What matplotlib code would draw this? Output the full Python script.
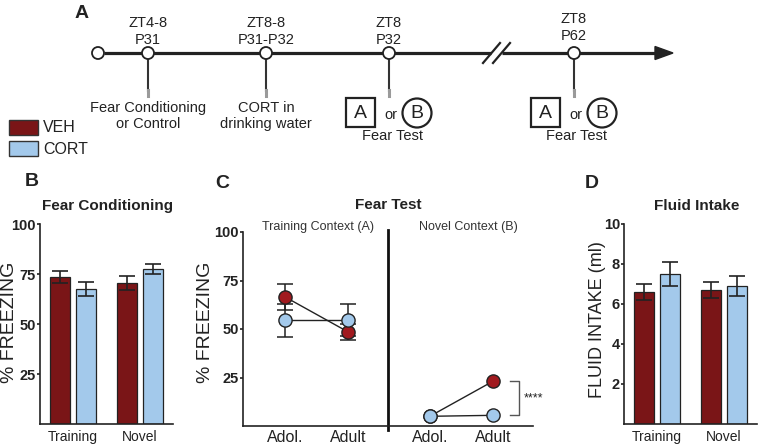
import matplotlib.pyplot as plt
import matplotlib.patches as mpatches
import numpy as np

plt.rcParams['font.family'] = ['Liberation Sans', 'DejaVu Sans']

# ---- datos ----
# panel A: linea de tiempo
tl_top = [('ZT4-8', 'P31'), ('ZT8-8', 'P31-P32'), ('ZT8', 'P32'), ('ZT8', 'P62')]
tl_bottom = ['Fear Conditioning\nor Control', 'CORT in\ndrinking water', 'Fear Test', 'Fear Test']
groups = ['VEH', 'CORT']

# panel B: fear conditioning
fc_cats = ['Training', 'Novel']
fc_veh = [73.5, 70.5]
fc_veh_err = [3.0, 3.5]
fc_cort = [67.5, 77.5]
fc_cort_err = [3.5, 2.5]

# panel C: fear test
ft_ages = ['Adol.', 'Adult']
ft_train_veh = [66.5, 48.5]
ft_train_veh_err = [6.7, 4.0]
ft_train_cort = [54.5, 54.5]
ft_train_cort_err = [8.5, 8.3]
ft_novel_veh = [5.0, 23.0]
ft_novel_cort = [5.0, 5.5]

# panel D: fluid intake
fi_cats = ['Training', 'Novel']
fi_veh = [6.6, 6.7]
fi_veh_err = [0.4, 0.4]
fi_cort = [7.5, 6.9]
fi_cort_err = [0.6, 0.5]

RED_BAR = '#7a1517'
RED_DOT = '#a11a1f'
BLUE = '#a3c9eb'
DARK = '#222222'

W, H = 761, 447
fig = plt.figure(figsize=(W / 100, H / 100), dpi=100)

# eje en pixeles para el diagrama y los textos
ax0 = fig.add_axes([0, 0, 1, 1])
ax0.set_xlim(0, W)
ax0.set_ylim(H, 0)
ax0.axis('off')


def axes_px(left, right, top, bottom):
    return fig.add_axes([left / W, 1 - bottom / H, (right - left) / W, (bottom - top) / H])


# ---- panel A ----
line_y = 53
ax0.text(82, 13, 'A', fontsize=14, fontweight='bold', ha='center', va='center', color=DARK)
ax0.plot([104, 491], [line_y, line_y], color=DARK, lw=2.3, solid_capstyle='butt', zorder=2)
ax0.plot([502, 660], [line_y, line_y], color=DARK, lw=2.3, solid_capstyle='butt', zorder=2)
ax0.fill([655, 673, 655], [46.5, line_y, 59.5], color=DARK, zorder=2)
for xs in (483, 493):
    ax0.plot([xs, xs + 17], [63, 43], color=DARK, lw=1.6, zorder=3)
ax0.add_patch(mpatches.Circle((98, line_y), 6, fc='white', ec=DARK, lw=1.3, zorder=4))

tl_x = [148, 266, 389, 574]
for i, (x, (zt, p), lab) in enumerate(zip(tl_x, tl_top, tl_bottom)):
    ax0.plot([x, x], [line_y, 91], color='#333333', lw=1.5, zorder=2)
    ax0.plot([x, x], [90, 96], color='#9a9a9a', lw=2.2, zorder=2)
    ax0.add_patch(mpatches.Circle((x, line_y), 6, fc='white', ec=DARK, lw=1.3, zorder=4))
    dy = -4 if i == 3 else 0
    ax0.text(x, 23 + dy, zt, fontsize=10.5, ha='center', va='center', color=DARK)
    ax0.text(x, 40 + dy, p, fontsize=10.5, ha='center', va='center', color=DARK)
    if lab == 'Fear Test':
        ax0.add_patch(mpatches.Rectangle((x - 43, 98), 29, 29, fc='white', ec=DARK, lw=1.6))
        ax0.text(x - 28.5, 113, 'A', fontsize=14, ha='center', va='center', color=DARK)
        ax0.text(x + 2, 115, 'or', fontsize=10.5, ha='center', va='center', color=DARK)
        ax0.add_patch(mpatches.Circle((x + 28, 113), 14.5, fc='white', ec=DARK, lw=1.6))
        ax0.text(x + 28, 113, 'B', fontsize=14, ha='center', va='center', color=DARK)
        ax0.text(x + 3, 136, lab, fontsize=10.5, ha='center', va='center', color=DARK)
    else:
        ax0.text(x, 116, lab, fontsize=10.5, ha='center', va='center', color=DARK,
                 linespacing=1.15)

# leyenda
for (y0, g, col) in [(120, groups[0], RED_BAR), (141, groups[1], BLUE)]:
    ax0.add_patch(mpatches.Rectangle((9, y0), 29, 15, fc=col, ec='#333333', lw=1))
    ax0.text(43, y0 + 8, g, fontsize=11.5, ha='left', va='center', color=DARK)


def style_axes(ax, ticks, labels):
    ax.set_facecolor('none')
    for s in ('top', 'right'):
        ax.spines[s].set_visible(False)
    for s in ('left', 'bottom'):
        ax.spines[s].set_linewidth(1.2)
        ax.spines[s].set_color(DARK)
    ax.set_yticks(ticks)
    ax.set_yticklabels(labels, fontsize=10.5, fontweight='bold', color=DARK)
    ax.tick_params(axis='y', length=2.5, width=1.2, pad=0.3, color=DARK)
    ax.tick_params(axis='x', length=0, pad=4, labelsize=10, labelcolor=DARK)


def bar_panel(ax, cats, veh, veh_err, cort, cort_err):
    x = np.arange(len(cats))
    off, bw = 0.19, 0.30
    ekw = dict(elinewidth=1.2, capthick=1.2, ecolor=DARK)
    ax.bar(x - off, veh, bw, color=RED_BAR, edgecolor='#222222', lw=0.9,
           yerr=veh_err, capsize=6, error_kw=ekw)
    ax.bar(x + off, cort, bw, color=BLUE, edgecolor='#222222', lw=0.9,
           yerr=cort_err, capsize=6, error_kw=ekw)
    ax.set_xticks(x)
    ax.set_xticklabels(cats)
    ax.set_xlim(-0.49, 1.49)


# ---- panel B ----
axB = axes_px(40, 173, 224, 424)
bar_panel(axB, fc_cats, fc_veh, fc_veh_err, fc_cort, fc_cort_err)
axB.set_ylim(0, 100)
style_axes(axB, [25, 50, 75, 100], ['25', '50', '75', '100'])
ax0.text(32, 182, 'B', fontsize=14, fontweight='bold', ha='center', va='center', color=DARK)
ax0.text(108, 206, 'Fear Conditioning', fontsize=11, fontweight='bold', ha='center',
         va='center', color=DARK)
ax0.text(10, 322, '% FREEZING', fontsize=14, rotation=90, ha='center', va='center', color=DARK)

# ---- panel C ----
axC = axes_px(243, 533, 232, 426)
axC.set_ylim(0, 100)
axC.set_xlim(0.33, 4.94)
xa = np.array([1.0, 2.0])
xn = np.array([3.3, 4.3])
mk = dict(marker='o', ms=9.5, mec='#222222', mew=1.0, zorder=4)
ekw = dict(fmt='none', ecolor=DARK, elinewidth=1.1, capsize=5.5, capthick=1.1, zorder=2)
axC.errorbar(xa, ft_train_veh, yerr=ft_train_veh_err, **ekw)
axC.errorbar(xa, ft_train_cort, yerr=ft_train_cort_err, **ekw)
axC.plot(xa, ft_train_veh, color=DARK, lw=1.0, mfc=RED_DOT, **mk)
axC.plot(xa, ft_train_cort, color=DARK, lw=1.0, mfc=BLUE, **mk)
axC.plot(xn, ft_novel_veh, color=DARK, lw=1.0, mfc=RED_DOT, **mk)
axC.plot(xn, ft_novel_cort, color=DARK, lw=1.0, mfc=BLUE, **mk)
axC.axvline(2.635, ymin=-0.02, ymax=1.01, color='#111111', lw=2.0, clip_on=False)
axC.set_xticks(np.concatenate([xa, xn]))
axC.set_xticklabels(ft_ages + ft_ages)
style_axes(axC, [25, 50, 75, 100], ['25', '50', '75', '100'])
axC.tick_params(axis='x', labelsize=11.5, pad=3)
# corchete de significancia
bx0, bx1 = 4.57, 4.72
axC.plot([bx0, bx1, bx1, bx0], [ft_novel_veh[1], ft_novel_veh[1], ft_novel_cort[1], ft_novel_cort[1]],
         color='#555555', lw=1.0, clip_on=False)
axC.text(4.80, (ft_novel_veh[1] + ft_novel_cort[1]) / 2, '****', fontsize=9, ha='left',
         va='center', color=DARK, clip_on=False)
ax0.text(222, 183, 'C', fontsize=14, fontweight='bold', ha='center', va='center', color=DARK)
ax0.text(388, 205, 'Fear Test', fontsize=11, fontweight='bold', ha='center', va='center', color=DARK)
ax0.text(318, 227, 'Training Context (A)', fontsize=9, ha='center', va='center', color='#333333')
ax0.text(468, 227, 'Novel Context (B)', fontsize=9, ha='center', va='center', color='#333333')
ax0.text(205, 322, '% FREEZING', fontsize=14, rotation=90, ha='center', va='center', color=DARK)

# ---- panel D ----
axD = axes_px(624, 757, 223.5, 424)
bar_panel(axD, fi_cats, fi_veh, fi_veh_err, fi_cort, fi_cort_err)
axD.set_ylim(0, 10)
style_axes(axD, [2, 4, 6, 8, 10], ['2', '4', '6', '8', '10'])
ax0.text(592, 183, 'D', fontsize=14, fontweight='bold', ha='center', va='center', color=DARK)
ax0.text(697, 206, 'Fluid Intake', fontsize=11, fontweight='bold', ha='center', va='center', color=DARK)
ax0.text(597, 320, 'FLUID INTAKE (ml)', fontsize=13, rotation=90, ha='center', va='center', color=DARK)

fig.savefig('out.png', dpi=100)
